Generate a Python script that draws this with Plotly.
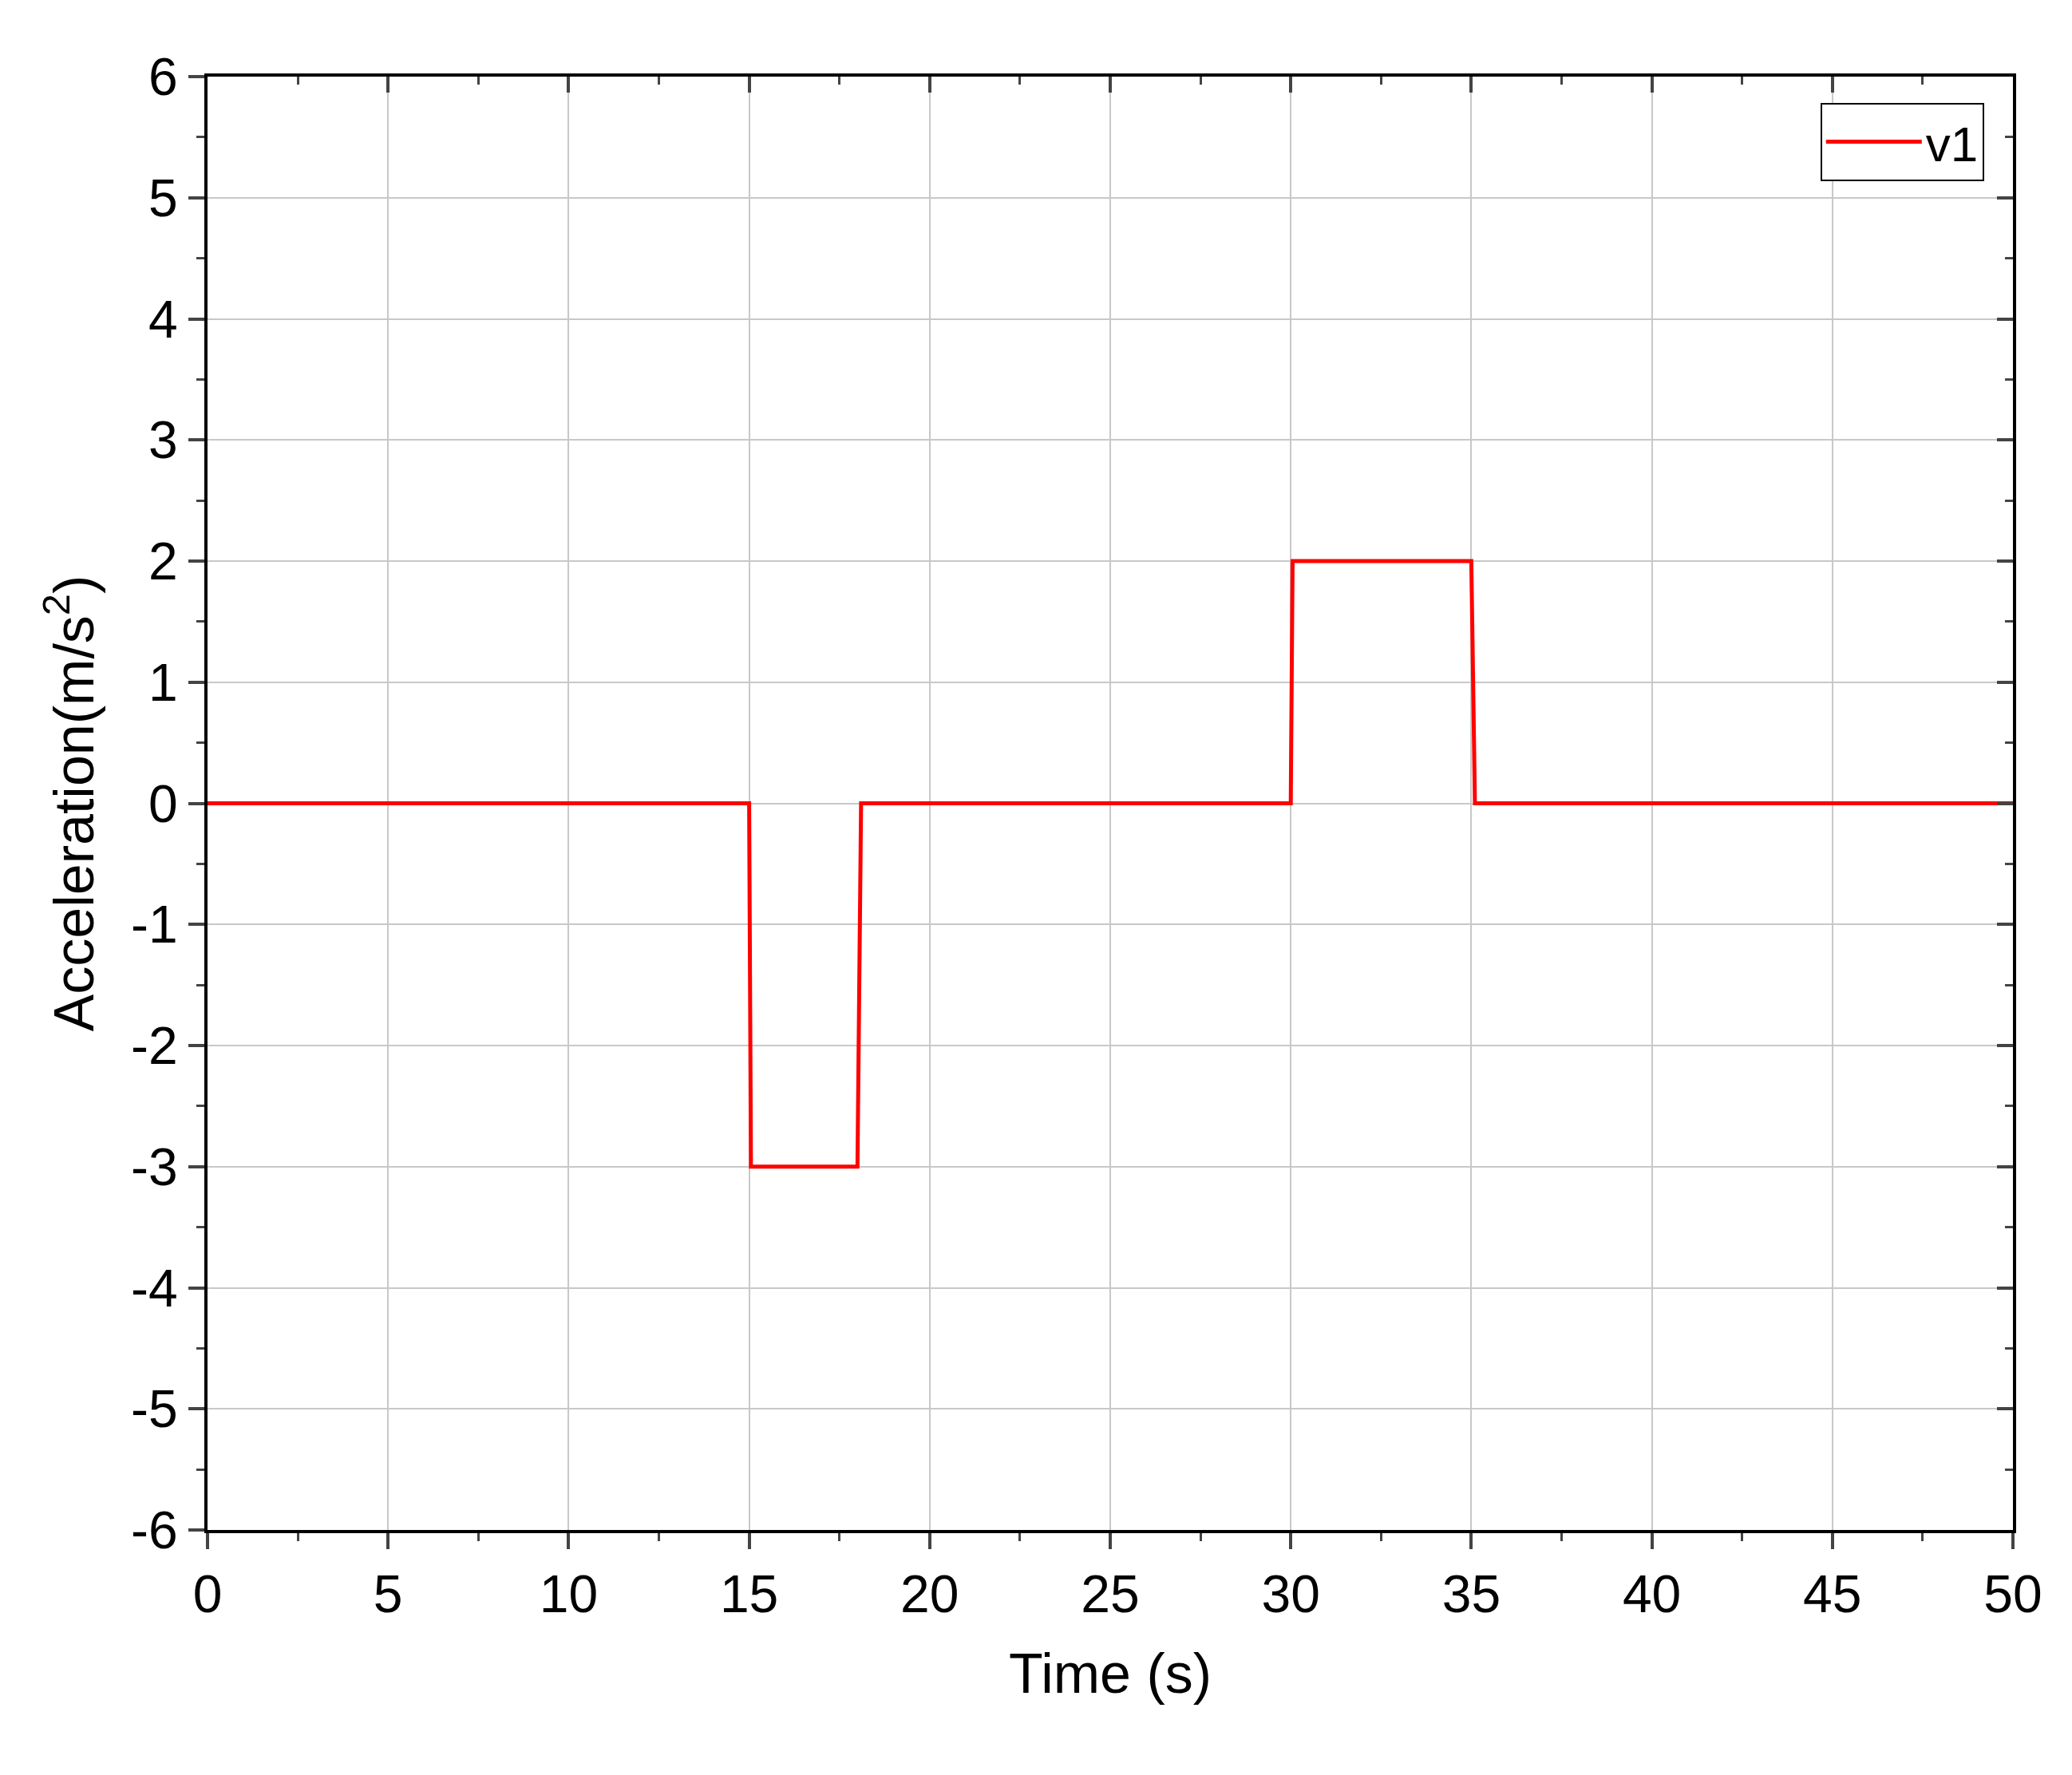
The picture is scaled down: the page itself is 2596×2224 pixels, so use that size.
import plotly.graph_objects as go

time_s = [0, 15, 15.05, 18, 18.1, 30, 30.05, 35, 35.1, 50]
accel = [0, 0, -3, -3, 0, 0, 2, 2, 0, 0]
x_ticks = list(range(0, 51, 5))
y_ticks = list(range(-6, 7, 1))
y_labels = [str(v) for v in y_ticks]

font = "Liberation Sans, Arial, sans-serif"
fig = go.Figure()
fig.add_trace(go.Scatter(x=time_s, y=accel, mode="lines", name="v1",
                         line=dict(color="#ff0000", width=5)))
fig.add_trace(go.Scatter(x=[0, 50], y=[-6, 6], xaxis="x2", yaxis="y2", mode="markers",
                         marker=dict(opacity=0), showlegend=False, hoverinfo="skip"))

common = dict(showline=True, linecolor="black", linewidth=4, zeroline=False)
fig.update_layout(
    width=2596, height=2224, plot_bgcolor="white", paper_bgcolor="white",
    margin=dict(l=252, r=82, t=88, b=315),
    font=dict(family=font, color="black", size=66),
    xaxis=dict(range=[0, 50], tickvals=x_ticks, ticks="outside", ticklen=20, tickwidth=4,
               showgrid=True, gridcolor="#c8c8c8", gridwidth=2,
               minor=dict(dtick=2.5, ticks="outside", ticklen=10, tickwidth=3, showgrid=False),
               title=dict(text="Time (s)", font=dict(size=70), standoff=40), **common),
    yaxis=dict(range=[-6, 6], tickvals=y_ticks, ticktext=y_labels, ticks="outside", ticklen=20, tickwidth=4,
               showgrid=True, gridcolor="#c8c8c8", gridwidth=2,
               minor=dict(dtick=0.5, ticks="outside", ticklen=10, tickwidth=3, showgrid=False),
               title=dict(text="Acceleration(m/s<sup>2</sup>)", font=dict(size=70), standoff=25), **common),
    xaxis2=dict(range=[0, 50], overlaying="x", side="top", tickvals=x_ticks, ticks="inside",
                ticklen=20, tickwidth=4, showticklabels=False, showgrid=False,
                minor=dict(dtick=2.5, ticks="inside", ticklen=10, tickwidth=3), **common),
    yaxis2=dict(range=[-6, 6], overlaying="y", side="right", tickvals=y_ticks, ticks="inside",
                ticklen=20, tickwidth=4, showticklabels=False, showgrid=False,
                minor=dict(dtick=0.5, ticks="inside", ticklen=10, tickwidth=3), **common),
    legend=dict(x=0.984, y=0.982, xanchor="right", yanchor="top", bgcolor="white",
                bordercolor="black", borderwidth=2, font=dict(size=62), itemwidth=120),
    showlegend=True,
)
fig.write_html("out.html")
